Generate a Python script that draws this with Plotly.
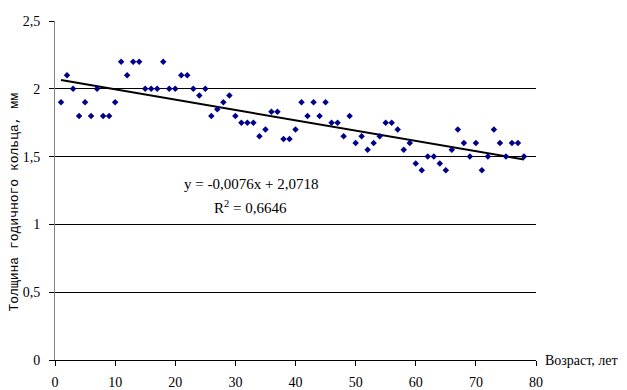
import plotly.graph_objects as go

age = list(range(1, 79))
thickness = [1.9, 2.1, 2.0, 1.8, 1.9, 1.8, 2.0, 1.8, 1.8, 1.9,
             2.2, 2.1, 2.2, 2.2, 2.0, 2.0, 2.0, 2.2, 2.0, 2.0,
             2.1, 2.1, 2.0, 1.95, 2.0, 1.8, 1.85, 1.9, 1.95, 1.8,
             1.75, 1.75, 1.75, 1.65, 1.7, 1.83, 1.83, 1.63, 1.63, 1.7,
             1.9, 1.8, 1.9, 1.8, 1.9, 1.75, 1.75, 1.65, 1.8, 1.6,
             1.65, 1.55, 1.6, 1.65, 1.75, 1.75, 1.7, 1.55, 1.6, 1.45,
             1.4, 1.5, 1.5, 1.45, 1.4, 1.55, 1.7, 1.6, 1.5, 1.6,
             1.4, 1.5, 1.7, 1.6, 1.5, 1.6, 1.6, 1.5]
slope = -0.0076
intercept = 2.0718
r2 = 0.6646
x_ticks = [0, 10, 20, 30, 40, 50, 60, 70, 80]
y_ticks = [0, 0.5, 1, 1.5, 2, 2.5]

trend_x = [age[0], age[-1]]
trend_y = [intercept + slope * v for v in trend_x]

serif = "Liberation Serif, Times New Roman, serif"
mono = "Liberation Mono, Courier New, monospace"

fig = go.Figure()
fig.add_trace(go.Scatter(x=trend_x, y=trend_y, mode="lines",
                         line=dict(color="black", width=2), showlegend=False))
fig.add_trace(go.Scatter(x=age, y=thickness, mode="markers",
                         marker=dict(symbol="diamond", size=5, color="#00008B"),
                         showlegend=False))

fig.update_layout(
    width=627, height=390,
    margin=dict(l=55, r=91, t=21, b=30, autoexpand=False),
    paper_bgcolor="white", plot_bgcolor="white",
    separators=", ",
    font=dict(family=serif, size=14, color="black"),
    xaxis=dict(range=[0, 80], tickvals=x_ticks, showgrid=False, zeroline=False,
               showline=True, linecolor="black", linewidth=1, automargin=False,
               ticks="outside", ticklen=5, tickcolor="black",
               ticklabelstandoff=4, tickfont=dict(family=serif, size=14)),
    yaxis=dict(range=[0, 2.5], tickvals=y_ticks, showgrid=True, gridcolor="black",
               gridwidth=1, zeroline=False, showline=True, linecolor="#808080",
               linewidth=1, automargin=False, ticks="outside", ticklen=5,
               tickcolor="black", ticklabelstandoff=6,
               tickfont=dict(family=serif, size=14)),
    annotations=[
        dict(x=0.407, y=1.30, xref="paper", yref="y", showarrow=False,
             text=f"y = {slope:.4f}x + {intercept:.4f}".replace(".", ","),
             font=dict(family=serif, size=15)),
        dict(x=0.407, y=1.13, xref="paper", yref="y", showarrow=False,
             text=f"R<sup>2</sup> = {r2:.4f}".replace(".", ","),
             font=dict(family=serif, size=15)),
        dict(x=-0.085, y=0.465, xref="paper", yref="paper", showarrow=False,
             xanchor="center", yanchor="middle",
             text="Толщина годичного кольца, мм", textangle=-90,
             font=dict(family=mono, size=13)),
        dict(x=1.015, y=0, xref="paper", yref="paper", showarrow=False,
             xanchor="left", yanchor="middle", text="Возраст, лет",
             font=dict(family=serif, size=14)),
    ],
)

fig.write_html("out.html", config={"displayModeBar": False},
               post_script="document.body.style.margin='0';document.body.style.overflow='hidden';")
